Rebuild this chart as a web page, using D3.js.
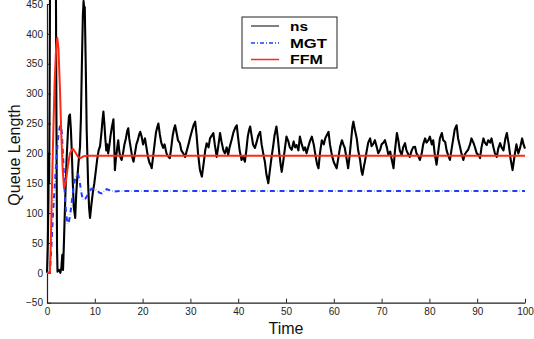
<!DOCTYPE html>
<html><head><meta charset="utf-8">
<script src="https://cdn.jsdelivr.net/npm/d3@7"></script>
<style>
body{margin:0;background:#fff;}
svg{display:block;font-family:"Liberation Sans",Arial,Helvetica,sans-serif;}
</style></head>
<body><svg id="c" width="534" height="339"></svg>
<script>
// ---- data ----
const xTicks = [0,10,20,30,40,50,60,70,80,90,100];
const yTicks = [-50,0,50,100,150,200,250,300,350,400,450];
const seriesNames = ["ns","MGT","FFM"];

const nsT = [0,0.15,0.3,0.38,0.45,0.55,0.7,1.8,1.95,2.1,2.2,2.5,2.8,3.0,3.2,3.35,3.5,3.8,4.1,4.4,4.6,4.8,5.0,5.2,5.4,5.6,5.9,6.1,6.3,6.6,6.9,7.1,7.3,7.5,7.65,7.8,7.9,8.1,8.3,8.6,8.8,9.0,9.3,9.6,9.9,10.2,10.5,10.8,11.1,11.4,11.6,11.8,12.0,12.2,12.4,12.6,12.8,13.0,13.3,13.6,13.9,14.05,14.2,14.4,14.7,14.9,15.1,15.3,15.6,15.9,16.2,16.5,16.8,17.0,17.2,17.5,17.8,18.1,18.4,18.7,19.0,19.3,19.5,19.8,20.1,20.5,20.8,21.1,21.4,21.7,21.9,22.2,22.5,22.8,23.1,23.3,23.6,23.9,24.3,24.6,25.0,25.3,25.7,26.0,26.3,26.6,26.8,27.1,27.4,27.8,28.1,28.5,28.9,29.2,29.6,30.0,30.4,30.7,31.0,31.3,31.6,32.0,32.4,32.8,33.1,33.4,33.8,34.1,34.5,34.8,35.1,35.5,35.8,36.2,36.5,36.9,37.2,37.6,37.9,38.2,38.6,39.0,39.4,39.7,40.0,40.3,40.7,41.0,41.4,41.7,42.0,42.3,42.5,42.8,43.1,43.5,43.9,44.2,44.6,44.9,45.3,45.6,45.9,46.3,46.6,47.0,47.3,47.6,48.0,48.3,48.6,48.9,49.1,49.4,49.8,50.1,50.5,50.8,51.2,51.6,51.9,52.2,52.6,52.9,53.3,53.7,54.0,54.3,54.7,55.0,55.4,55.8,56.2,56.5,56.8,57.1,57.5,57.9,58.2,58.5,58.9,59.2,59.6,60.0,60.3,60.6,61.0,61.3,61.7,62.0,62.3,62.7,63.0,63.3,63.6,63.9,64.1,64.4,64.8,65.1,65.5,65.8,66.0,66.3,66.5,66.9,67.2,67.6,67.9,68.2,68.6,69.0,69.3,69.7,70.0,70.4,70.7,71.1,71.4,71.8,72.1,72.5,72.8,73.2,73.5,73.8,74.2,74.5,74.9,75.2,75.6,75.9,76.3,76.6,77.0,77.3,77.7,78.0,78.4,78.7,79.1,79.4,79.8,80.1,80.5,80.8,81.1,81.5,81.8,82.2,82.6,82.9,83.3,83.6,84.0,84.3,84.6,85.0,85.3,85.7,86.0,86.4,86.7,87.1,87.4,87.8,88.1,88.5,88.8,89.2,89.5,89.9,90.2,90.6,90.9,91.3,91.6,92.0,92.3,92.7,93.0,93.4,93.7,94.1,94.4,94.8,95.1,95.5,95.9,96.2,96.6,97.0,97.4,97.8,98.2,98.6,99.0,99.4,99.7,100.0];
const nsV = [0,40,120,200,150,300,620,620,300,40,2,5,0,8,30,5,40,120,190,240,262,265,240,200,150,110,92,130,155,185,210,260,350,430,455,440,445,350,240,150,110,92,115,135,150,170,190,205,212,235,255,270,250,225,205,215,200,210,230,245,257,220,172,190,210,222,205,195,189,200,215,225,238,242,225,210,195,186,200,215,222,232,236,228,215,225,210,195,185,180,175,195,215,235,245,250,232,218,209,215,200,195,192,210,230,242,247,235,222,217,205,200,194,203,215,228,240,248,253,230,200,172,161,185,205,217,210,225,230,234,215,194,210,234,220,205,200,210,197,210,222,235,243,247,225,205,189,195,186,205,228,240,245,230,215,209,220,230,236,215,197,185,165,150,170,195,211,230,245,225,200,180,169,185,210,228,220,210,206,220,210,214,205,228,215,205,210,200,212,220,228,215,195,182,175,200,222,215,225,230,236,215,197,185,180,175,195,210,222,215,209,190,175,195,220,245,253,240,225,205,189,170,164,178,186,205,218,225,212,215,222,210,200,206,215,218,222,210,198,203,190,175,205,234,222,205,197,210,217,205,198,194,205,210,211,200,195,189,200,215,225,218,222,228,215,222,200,181,200,225,234,222,219,205,195,189,205,225,240,247,225,211,200,189,198,203,206,215,225,218,211,200,198,192,210,225,218,214,222,218,225,210,200,194,208,217,210,205,225,234,215,190,172,195,215,200,210,225,215,208];

const mgtT = [0,0.6,0.9,1.2,1.5,1.8,2.1,2.4,2.7,2.9,3.1,3.4,3.7,4.0,4.3,4.6,4.9,5.2,5.5,5.9,6.2,6.5,6.8,7.1,7.4,7.6,8.0,8.5,9.0,9.3,9.8,10.4,11.0,11.5,12.0,12.5,13.2,14.0,15.5,100];
const mgtV = [0,0,40,90,130,170,205,232,245,247,235,190,135,100,82,86,100,120,140,158,164,165,155,138,126,122,124,130,137,141,140,138,134,133,137,140,138,136,137,137];

const ffmT = [0,0.6,0.8,1.0,1.3,1.6,1.9,2.15,2.4,2.7,3.0,3.3,3.56,3.9,4.3,4.8,5.4,6.0,6.5,7.0,7.6,8.5,100];
const ffmV = [0,0,50,130,230,320,375,393,375,310,230,170,142,150,175,200,208,201,194,192,195,196,196];

// ---- chart ----
const svg = d3.select("#c");
const x = d3.scaleLinear().domain([0,100]).range([47,525]);
const y = d3.scaleLinear().domain([-50,450]).range([302.7,4]);
const axisColor = "#222";

const gx = svg.append("g").attr("transform","translate(0,302.7)")
  .call(d3.axisBottom(x).tickValues(xTicks).tickSize(-4).tickSizeOuter(0).tickPadding(5).tickFormat(d3.format("d")));
const gy = svg.append("g").attr("transform","translate(47,0)")
  .call(d3.axisLeft(y).tickValues(yTicks).tickSize(-4).tickSizeOuter(0).tickPadding(4).tickFormat(d => d<0 ? "\u2212"+Math.abs(d) : String(d)));
[gx,gy].forEach(g=>{
  g.selectAll("path.domain").attr("stroke",axisColor).attr("stroke-width",1.2);
  g.selectAll(".tick line").attr("stroke",axisColor).attr("stroke-width",1);
  g.selectAll(".tick text").attr("fill","#222").attr("font-size",10).attr("font-family","'Liberation Sans',Arial,sans-serif");
});

const line = d3.line().x(d=>x(d[0])).y(d=>y(d[1]));
const zip = (a,b)=>a.map((t,i)=>[t,b[i]]);

svg.append("path").datum(zip(nsT,nsV)).attr("d",line)
  .attr("fill","none").attr("stroke","#000").attr("stroke-width",2.1).attr("stroke-linejoin","round");
svg.append("path").datum(zip(mgtT,mgtV)).attr("d",line)
  .attr("fill","none").attr("stroke","#1f3cff").attr("stroke-width",2)
  .attr("stroke-dasharray","5,2.2,0.3,2.2");
svg.append("path").datum(zip(ffmT,ffmV)).attr("d",line)
  .attr("fill","none").attr("stroke","#ff2a14").attr("stroke-width",2).attr("stroke-linejoin","round");

// axis titles
svg.append("text").attr("x",286).attr("y",334).attr("text-anchor","middle")
  .attr("font-size",16).attr("fill","#111").text("Time");
svg.append("text").attr("transform","translate(20,155) rotate(-90)").attr("text-anchor","middle")
  .attr("font-size",16).attr("fill","#111").text("Queue Length");

// legend
const lg = svg.append("g");
lg.append("rect").attr("x",242).attr("y",17).attr("width",95).attr("height",51)
  .attr("fill","#fff").attr("stroke","#222").attr("stroke-width",1);
const lgStyles = [
  {c:"#000", w:1, dash:null, len:18},
  {c:"#1f3cff", w:1.5, dash:"4,2,1,2", len:37},
  {c:"#ff2a14", w:1.5, dash:null, len:33}
];
const lgY = [26,43,59.5];
seriesNames.forEach((n,i)=>{
  const s = lgStyles[i];
  const l = lg.append("line").attr("x1",251).attr("x2",279).attr("y1",lgY[i]).attr("y2",lgY[i])
    .attr("stroke",s.c).attr("stroke-width",s.w);
  if (s.dash) l.attr("stroke-dasharray",s.dash);
  lg.append("text").attr("x",290).attr("y",lgY[i]+4.5).attr("font-size",12).attr("font-weight","bold")
    .attr("fill","#000").attr("textLength",s.len).attr("lengthAdjust","spacingAndGlyphs").text(n);
});
</script>
</body></html>
